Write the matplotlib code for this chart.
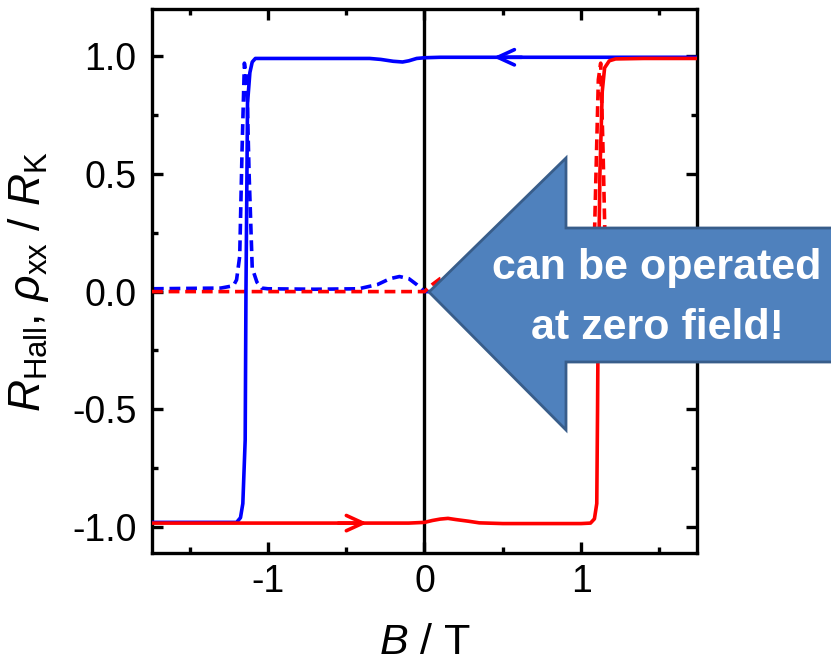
import matplotlib
matplotlib.use("Agg")
import matplotlib.pyplot as plt
from matplotlib.patches import Polygon
from matplotlib.ticker import MultipleLocator

# ===============================
# DATA
# ===============================
# Hall resistance, field swept down (+B -> -B)
b_down = [1.74, 1.4, 1.0, 0.6, 0.3, 0.1, 0.0, -0.05, -0.1, -0.14, -0.2, -0.28,
          -0.35, -0.6, -0.9, -1.05, -1.08, -1.10, -1.115, -1.13, -1.14, -1.145,
          -1.16, -1.175, -1.2, -1.3, -1.74]
r_hall_down = [0.995, 0.995, 0.995, 0.995, 0.995, 0.995, 0.993, 0.99, 0.98, 0.975,
               0.978, 0.986, 0.99, 0.99, 0.99, 0.99, 0.99, 0.975, 0.93, 0.8, 0.0,
               -0.63, -0.9, -0.96, -0.98, -0.98, -0.98]

# Hall resistance, field swept up (-B -> +B)
b_up = [-1.74, -1.2, -0.8, -0.4, -0.1, 0.0, 0.05, 0.1, 0.15, 0.2, 0.28, 0.35, 0.5,
        0.8, 1.0, 1.06, 1.085, 1.1, 1.105, 1.11, 1.12, 1.135, 1.15, 1.18, 1.22,
        1.4, 1.74]
r_hall_up = [-0.983, -0.983, -0.983, -0.983, -0.983, -0.98, -0.972, -0.966, -0.963,
             -0.968, -0.975, -0.982, -0.985, -0.985, -0.985, -0.983, -0.965, -0.9,
             -0.5, 0.0, 0.5, 0.85, 0.95, 0.98, 0.988, 0.99, 0.99]

# Longitudinal resistivity, field swept down
b_rho_down = [1.74, 0.5, 0.0, -0.05, -0.1, -0.16, -0.22, -0.3, -0.42, -0.7, -1.0,
              -1.04, -1.07, -1.10, -1.12, -1.135, -1.15, -1.165, -1.18, -1.2,
              -1.22, -1.3, -1.74]
rho_down = [0.0, 0.0, 0.0, 0.03, 0.055, 0.064, 0.055, 0.03, 0.012, 0.01, 0.012,
            0.015, 0.04, 0.1, 0.5, 0.9, 0.97, 0.6, 0.15, 0.05, 0.025, 0.015, 0.012]

# Longitudinal resistivity, field swept up
b_rho_up = [-1.74, -1.0, -0.5, -0.1, 0.0, 0.05, 0.1, 0.16, 0.22, 0.3, 0.42, 0.7,
            1.0, 1.04, 1.06, 1.08, 1.095, 1.11, 1.125, 1.14, 1.155, 1.17, 1.2,
            1.3, 1.74]
rho_up = [0.0, 0.0, 0.0, 0.0, 0.0, 0.03, 0.055, 0.064, 0.055, 0.03, 0.012, 0.01,
          0.012, 0.015, 0.04, 0.1, 0.5, 0.9, 0.97, 0.6, 0.15, 0.05, 0.025, 0.015,
          0.012]

# ===============================
# STYLE
# ===============================
plt.rcParams["font.family"] = "Liberation Sans"
plt.rcParams["mathtext.fontset"] = "custom"
plt.rcParams["mathtext.rm"] = "Liberation Sans"
plt.rcParams["mathtext.it"] = "Liberation Sans:italic"
plt.rcParams["mathtext.bf"] = "Liberation Sans:bold"

fig = plt.figure(figsize=(8.31, 6.65), dpi=100)
ax = fig.add_axes([152 / 831, 112 / 665, 545 / 831, 544 / 665])

lw = 2.6
dash = (0, (3.0, 1.6))

ax.axvline(0, color="black", lw=2.4, zorder=1)

ax.plot(b_rho_down, rho_down, color="blue", lw=lw, linestyle=dash, zorder=2)
ax.plot(b_rho_up, rho_up, color="red", lw=lw, linestyle=dash, zorder=3)
ax.plot(b_down, r_hall_down, color="blue", lw=lw, zorder=4)
ax.plot(b_up, r_hall_up, color="red", lw=lw, zorder=5)

# sweep direction arrows
ax.annotate("", xy=(0.44, 0.995), xytext=(0.62, 0.995),
            arrowprops=dict(arrowstyle="->,head_length=1.2,head_width=0.55",
                            color="blue", lw=lw, shrinkA=0, shrinkB=0), zorder=6)
ax.annotate("", xy=(-0.365, -0.983), xytext=(-0.55, -0.983),
            arrowprops=dict(arrowstyle="->,head_length=1.2,head_width=0.55",
                            color="red", lw=lw, shrinkA=0, shrinkB=0), zorder=6)

ax.set_xlim(-1.74, 1.74)
ax.set_ylim(-1.11, 1.2)
ax.xaxis.set_minor_locator(MultipleLocator(0.5))
ax.yaxis.set_minor_locator(MultipleLocator(0.25))
ax.set_yticks([-1.0, -0.5, 0.0, 0.5, 1.0])
ax.set_yticklabels(["-1.0", "-0.5", "0.0", "0.5", "1.0"])
ax.set_xticks([-1, 0, 1])
ax.set_xticklabels(["-1", "0", "1"])

for s in ax.spines.values():
    s.set_linewidth(2.4)
ax.tick_params(which="both", direction="in", top=True, right=True, width=2.4,
               labelsize=27)
ax.tick_params(which="major", length=8)
ax.tick_params(which="minor", length=4)
ax.tick_params(axis="x", pad=8)
ax.tick_params(axis="y", pad=11)

ax.set_xlabel(r"$B$ / T", fontsize=31)
ax.xaxis.set_label_coords(0.5, -0.128)
ax.xaxis.label.set_verticalalignment("top")
ax.set_ylabel(r"$R_{\mathrm{Hall}}$, $\rho_{\mathrm{xx}}$ / $R_{\mathrm{K}}$", fontsize=32)
ax.yaxis.set_label_coords(-0.185, 0.5)

# ===============================
# CALLOUT
# ===============================
px = [(429, 292), (566, 158), (566, 228), (840, 228), (840, 362), (566, 362), (566, 430)]
arrow = Polygon([(x / 831, 1 - y / 665) for x, y in px], closed=True,
                facecolor="#4F81BD", edgecolor="#385D8A", lw=2,
                transform=fig.transFigure, zorder=10)
fig.add_artist(arrow)
fig.text(657 / 831, 1 - 268 / 665, "can be operated", color="white",
         fontsize=31, fontweight="bold", ha="center", va="center", zorder=11)
fig.text(657 / 831, 1 - 328 / 665, "at zero field!", color="white",
         fontsize=31, fontweight="bold", ha="center", va="center", zorder=11)

plt.savefig("out.png", dpi=100)
